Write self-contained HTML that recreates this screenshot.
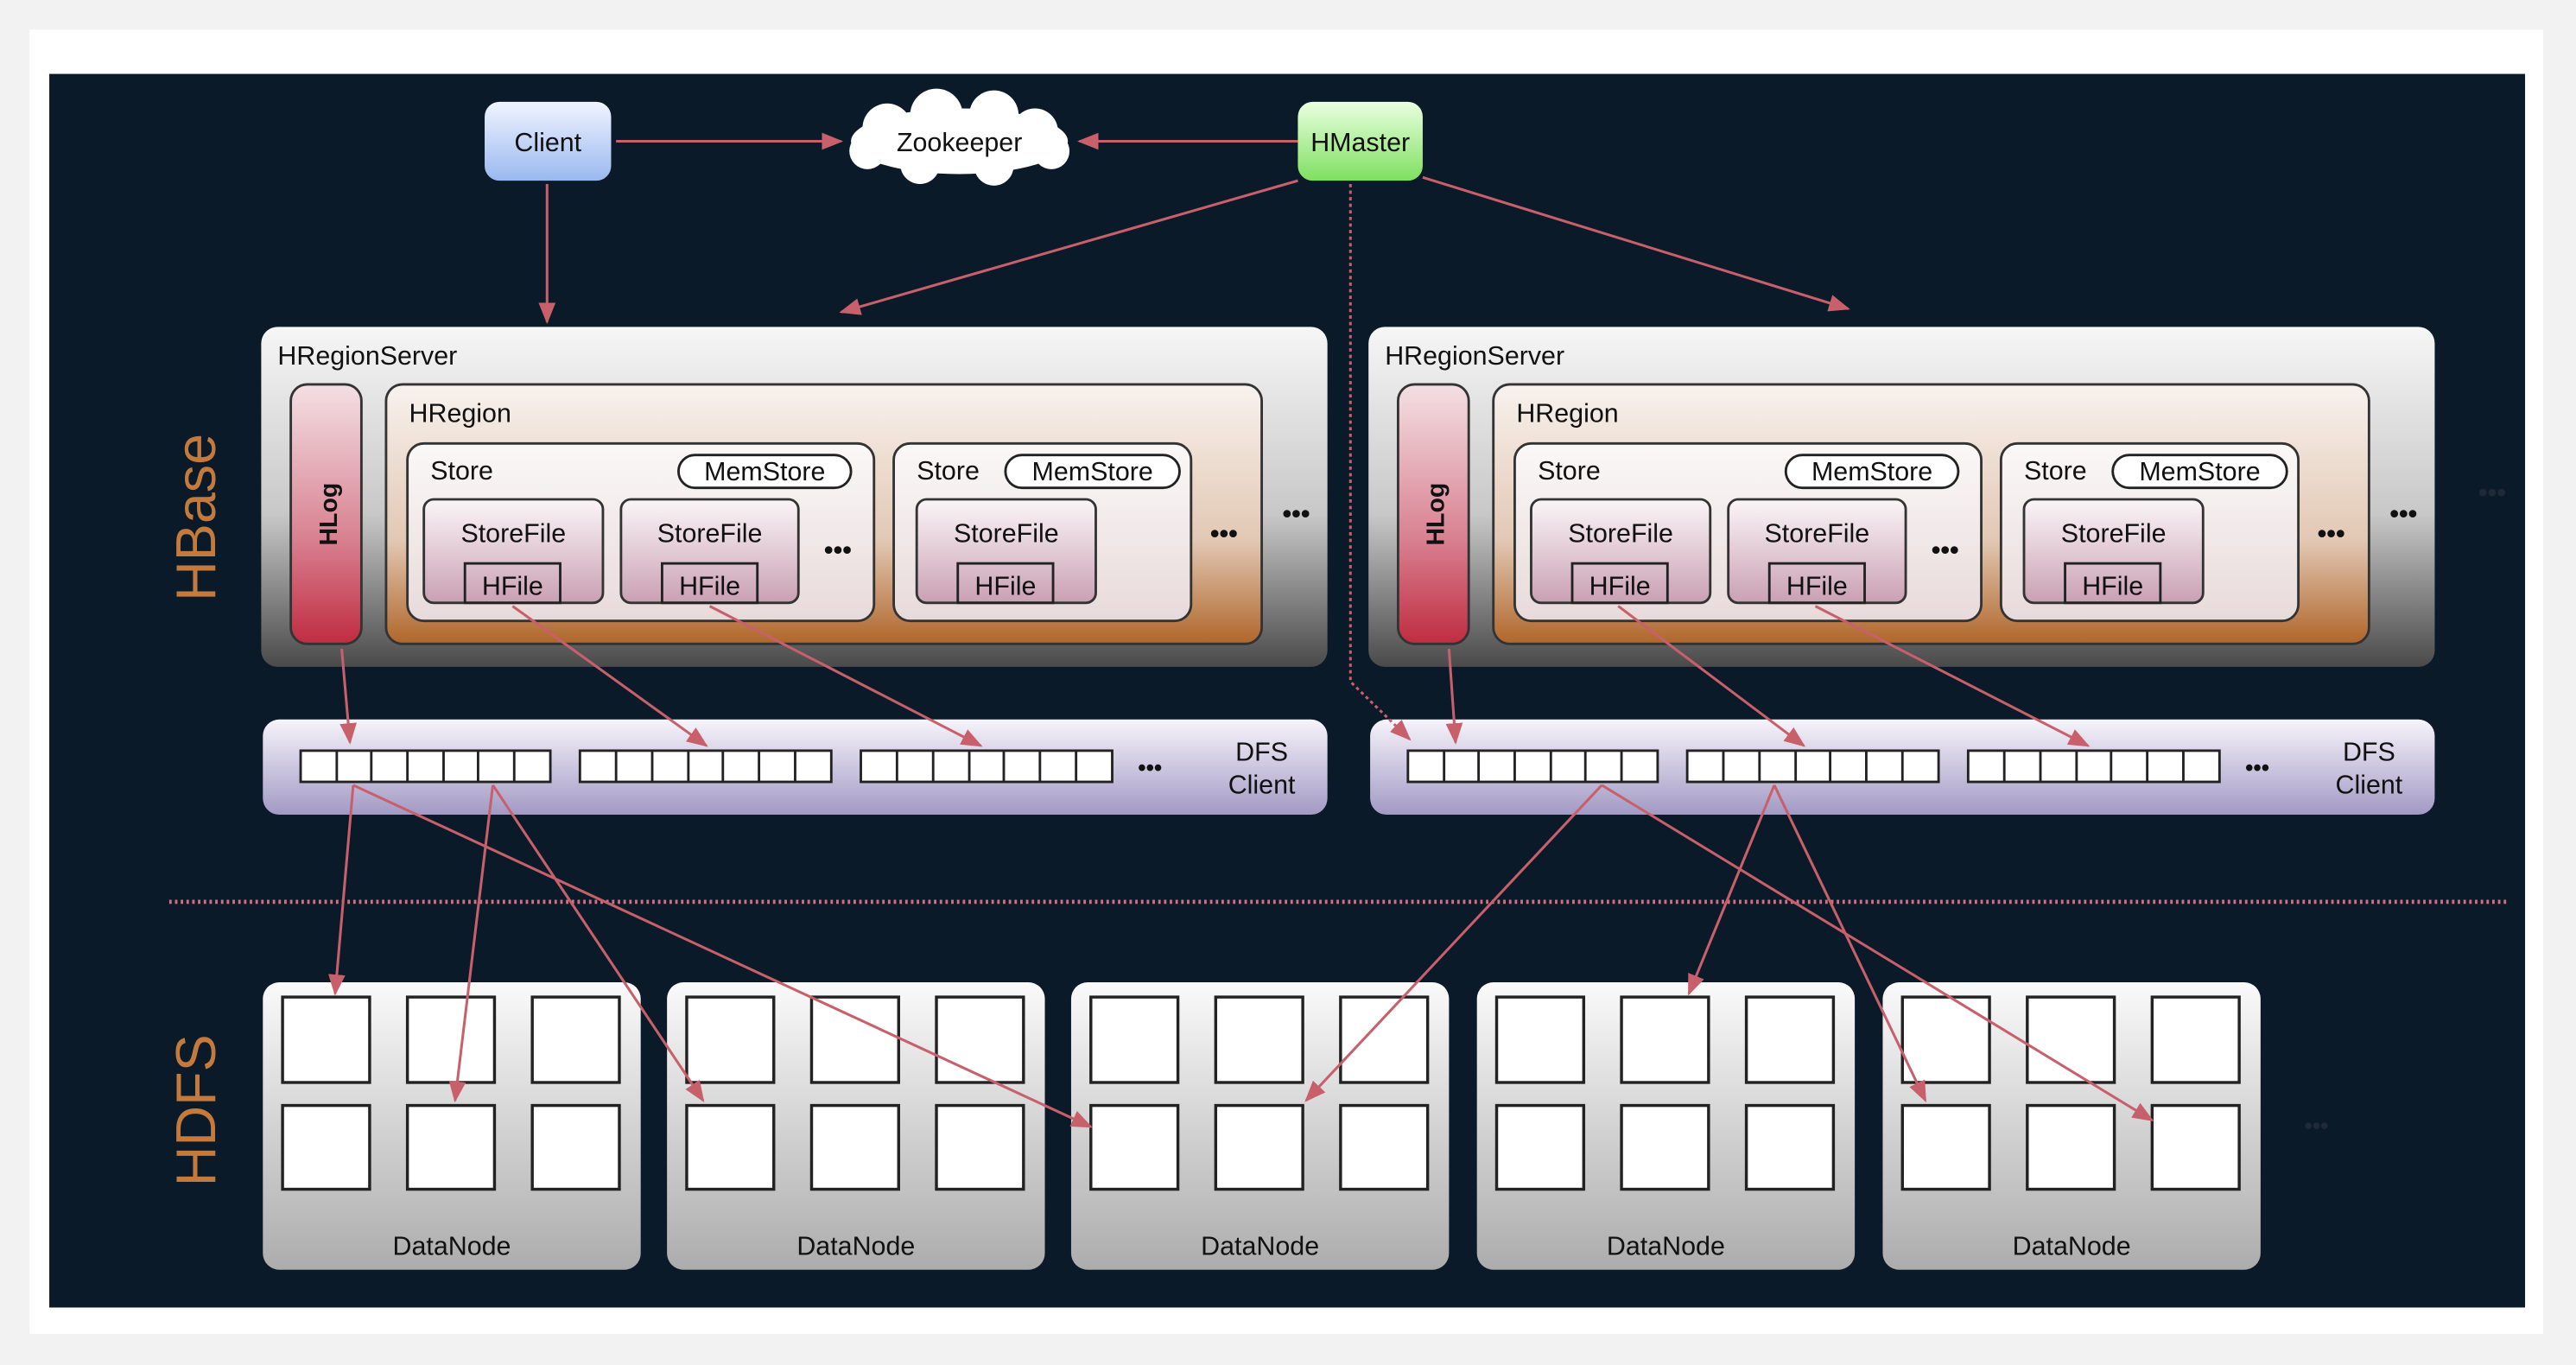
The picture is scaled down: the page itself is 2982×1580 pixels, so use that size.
<!DOCTYPE html>
<html><head><meta charset="utf-8"><style>
html,body{margin:0;padding:0;background:#f2f2f2;}
svg{display:block;}
text{font-family:"Liberation Sans",Arial,sans-serif;fill:#111;}
</style></head><body>
<svg width="2982" height="1580" viewBox="0 0 1568 831" preserveAspectRatio="none" xmlns="http://www.w3.org/2000/svg">
<defs>
<linearGradient id="rs" x1="0" y1="0" x2="0" y2="1"><stop offset="0" stop-color="#f6f6f6"/><stop offset="0.55" stop-color="#c8c8c8"/><stop offset="1" stop-color="#4a4a4a"/></linearGradient>
<linearGradient id="hr" x1="0" y1="0" x2="0" y2="1"><stop offset="0" stop-color="#f8f2ee"/><stop offset="0.6" stop-color="#e2c8b4"/><stop offset="1" stop-color="#b0662a"/></linearGradient>
<linearGradient id="st" x1="0" y1="0" x2="0" y2="1"><stop offset="0" stop-color="#fbf8f8"/><stop offset="1" stop-color="#e8dada"/></linearGradient>
<linearGradient id="sf" x1="0" y1="0" x2="0" y2="1"><stop offset="0" stop-color="#fbf6f8"/><stop offset="1" stop-color="#c9a0b2"/></linearGradient>
<linearGradient id="hl" x1="0" y1="0" x2="0" y2="1"><stop offset="0" stop-color="#f4e0e4"/><stop offset="0.6" stop-color="#d88090"/><stop offset="1" stop-color="#c02c40"/></linearGradient>
<linearGradient id="dfs" x1="0" y1="0" x2="0" y2="1"><stop offset="0" stop-color="#f6f4fb"/><stop offset="1" stop-color="#a29ac4"/></linearGradient>
<linearGradient id="dn" x1="0" y1="0" x2="0" y2="1"><stop offset="0" stop-color="#fafafa"/><stop offset="1" stop-color="#acacac"/></linearGradient>
<linearGradient id="cl" x1="0" y1="0" x2="0" y2="1"><stop offset="0" stop-color="#f0f4ff"/><stop offset="1" stop-color="#9ab8f0"/></linearGradient>
<linearGradient id="hm" x1="0" y1="0" x2="0" y2="1"><stop offset="0" stop-color="#eaffe0"/><stop offset="1" stop-color="#7ee060"/></linearGradient>
<marker id="ar" viewBox="0 0 10 10" refX="9" refY="5" markerWidth="7" markerHeight="7" orient="auto-start-reverse" markerUnits="userSpaceOnUse"><path d="M0,0 L10,5 L0,10 z" fill="#c8606c"/></marker>
<marker id="ar2" viewBox="0 0 10 10" refX="9" refY="5" markerWidth="13" markerHeight="13" orient="auto" markerUnits="userSpaceOnUse"><path d="M0,1 L10,5 L0,9 z" fill="#c8606c"/></marker>
<g id="server">
  <rect x="159" y="199" width="649" height="207" rx="10" fill="url(#rs)"/>
  <text x="169" y="222" font-size="16">HRegionServer</text>
  <rect x="177" y="234" width="43" height="158" rx="10" fill="url(#hl)" stroke="#333" stroke-width="1.5"/>
  <text transform="translate(205,313) rotate(-90)" font-size="15" font-weight="bold" text-anchor="middle">HLog</text>
  <rect x="235" y="234" width="533" height="158" rx="10" fill="url(#hr)" stroke="#333" stroke-width="1.5"/>
  <text x="249" y="257" font-size="16">HRegion</text>
  <rect x="248" y="270" width="284" height="108" rx="10" fill="url(#st)" stroke="#333" stroke-width="1.5"/>
  <text x="262" y="292" font-size="16">Store</text>
  <rect x="413" y="277" width="105" height="20" rx="10" fill="#fff" stroke="#222" stroke-width="1.5"/>
  <text x="465.5" y="292.5" font-size="16" text-anchor="middle">MemStore</text>
  <rect x="258" y="304" width="109" height="63" rx="6" fill="url(#sf)" stroke="#333" stroke-width="1.5"/>
  <text x="312.5" y="330" font-size="16" text-anchor="middle">StoreFile</text>
  <rect x="283" y="343" width="58" height="24" fill="none" stroke="#222" stroke-width="1.5"/>
  <text x="312" y="362" font-size="16" text-anchor="middle">HFile</text>
  <rect x="378" y="304" width="108" height="63" rx="6" fill="url(#sf)" stroke="#333" stroke-width="1.5"/>
  <text x="432" y="330" font-size="16" text-anchor="middle">StoreFile</text>
  <rect x="403" y="343" width="58" height="24" fill="none" stroke="#222" stroke-width="1.5"/>
  <text x="432" y="362" font-size="16" text-anchor="middle">HFile</text>
  <text x="510" y="340" font-size="16" font-weight="bold" text-anchor="middle">•••</text>
  <rect x="544" y="270" width="181" height="108" rx="10" fill="url(#st)" stroke="#333" stroke-width="1.5"/>
  <text x="558" y="292" font-size="16">Store</text>
  <rect x="612" y="277" width="106" height="20" rx="10" fill="#fff" stroke="#222" stroke-width="1.5"/>
  <text x="665" y="292.5" font-size="16" text-anchor="middle">MemStore</text>
  <rect x="558" y="304" width="109" height="63" rx="6" fill="url(#sf)" stroke="#333" stroke-width="1.5"/>
  <text x="612.5" y="330" font-size="16" text-anchor="middle">StoreFile</text>
  <rect x="583" y="343" width="58" height="24" fill="none" stroke="#222" stroke-width="1.5"/>
  <text x="612" y="362" font-size="16" text-anchor="middle">HFile</text>
  <text x="745" y="330" font-size="16" font-weight="bold" text-anchor="middle">•••</text>
  <text x="789" y="318" font-size="16" font-weight="bold" text-anchor="middle">•••</text>
  <rect x="160" y="438" width="648" height="58" rx="10" fill="url(#dfs)"/>
  <g fill="#fff" stroke="#222" stroke-width="1.5">
    <rect x="183" y="457" width="152" height="19"/><rect x="353" y="457" width="153" height="19"/><rect x="524" y="457" width="153" height="19"/>
  </g>
  <g stroke="#222" stroke-width="1.5">
    <path d="M205 457v19M226 457v19M248 457v19M270 457v19M291 457v19M313 457v19"/>
    <path d="M375 457v19M397 457v19M419 457v19M440 457v19M462 457v19M484 457v19"/>
    <path d="M546 457v19M568 457v19M590 457v19M611 457v19M633 457v19M655 457v19"/>
  </g>
  <text x="700" y="472" font-size="14" font-weight="bold" text-anchor="middle">•••</text>
  <text x="768" y="463" font-size="16" text-anchor="middle">DFS</text>
  <text x="768" y="483" font-size="16" text-anchor="middle">Client</text>
</g>
<g id="dnode">
  <rect x="0" y="598" width="230" height="175" rx="10" fill="url(#dn)"/>
  <g fill="#fff" stroke="#222" stroke-width="1.8">
    <rect x="12" y="607" width="53" height="52"/><rect x="88" y="607" width="53" height="52"/><rect x="164" y="607" width="53" height="52"/>
    <rect x="12" y="673" width="53" height="51"/><rect x="88" y="673" width="53" height="51"/><rect x="164" y="673" width="53" height="51"/>
  </g>
  <text x="115" y="764" font-size="16" text-anchor="middle">DataNode</text>
</g>
</defs>
<rect x="18" y="18" width="1530" height="794" fill="#fff"/>
<rect x="30" y="45" width="1507" height="751" fill="#0b1a28"/>
<text transform="translate(131,315) rotate(-90)" font-size="34" fill="#c47a3c" style="fill:#c47a3c" text-anchor="middle">HBase</text>
<text transform="translate(131,676) rotate(-90)" font-size="34" style="fill:#c47a3c" text-anchor="middle">HDFS</text>
<rect x="295" y="62" width="77" height="48" rx="9" fill="url(#cl)"/>
<text x="333.5" y="92" font-size="16" text-anchor="middle">Client</text>
<rect x="790" y="62" width="76" height="48" rx="9" fill="url(#hm)"/>
<text x="828" y="92" font-size="16" text-anchor="middle">HMaster</text>
<g fill="#fff">
  <ellipse cx="584" cy="86" rx="66" ry="20"/><circle cx="540" cy="78" r="15"/><circle cx="570" cy="70" r="16"/><circle cx="605" cy="70" r="15"/><circle cx="630" cy="80" r="14"/><circle cx="560" cy="100" r="12"/><circle cx="605" cy="101" r="12"/><circle cx="528" cy="92" r="11"/><circle cx="640" cy="92" r="11"/>
</g>
<text x="584" y="92" font-size="16" text-anchor="middle">Zookeeper</text>
<use href="#server"/>
<use href="#server" transform="translate(674,0)"/>
<line x1="103" y1="549" x2="1527" y2="549" stroke="#d07080" stroke-width="2.5" stroke-dasharray="1.5 2"/>
<use href="#dnode" transform="translate(160,0)"/>
<use href="#dnode" transform="translate(406,0)"/>
<use href="#dnode" transform="translate(652,0)"/>
<use href="#dnode" transform="translate(899,0)"/>
<use href="#dnode" transform="translate(1146,0)"/>
<text x="1410" y="690" font-size="14" font-weight="bold" text-anchor="middle" style="fill:#1e2a38">•••</text>
<text x="1517" y="305" font-size="16" font-weight="bold" text-anchor="middle" style="fill:#1e2a38">•••</text>
<g stroke="#c8606c" stroke-width="1.6" fill="none" marker-end="url(#ar2)">
  <line x1="375" y1="86" x2="512" y2="86"/>
  <line x1="790" y1="86" x2="657" y2="86"/>
  <line x1="333" y1="112" x2="333" y2="196"/>
  <line x1="790" y1="110" x2="512" y2="190"/>
  <line x1="866" y1="108" x2="1125" y2="188"/>
  <polyline points="822,112 822,415 858,450" stroke-dasharray="2 2"/>
  <line x1="208" y1="395" x2="213" y2="452"/>
  <line x1="312" y1="369" x2="430" y2="454"/>
  <line x1="432" y1="369" x2="597" y2="454"/>
  <line x1="215" y1="478" x2="204" y2="605"/>
  <line x1="300" y1="478" x2="277" y2="670"/>
  <line x1="300" y1="478" x2="428" y2="670"/>
  <line x1="215" y1="478" x2="664" y2="686"/>
  <line x1="882" y1="395" x2="886" y2="452"/>
  <line x1="985" y1="369" x2="1098" y2="454"/>
  <line x1="1105" y1="369" x2="1271" y2="454"/>
  <line x1="975" y1="478" x2="795" y2="670"/>
  <line x1="975" y1="478" x2="1310" y2="682"/>
  <line x1="1080" y1="478" x2="1028" y2="605"/>
  <line x1="1080" y1="478" x2="1172" y2="670"/>
</g>
</svg>
</body></html>
